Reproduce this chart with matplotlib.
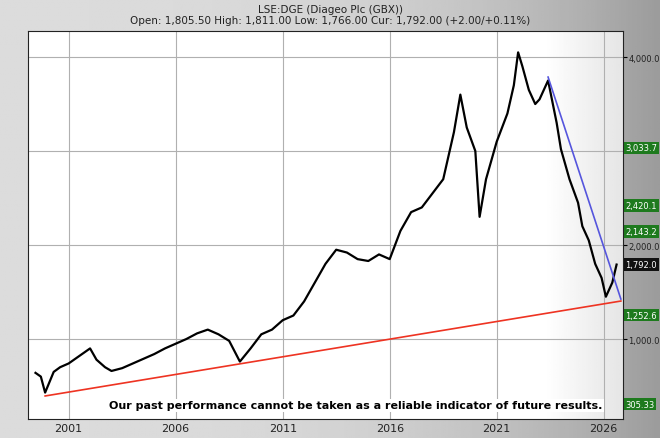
import matplotlib
matplotlib.use("Agg")
import matplotlib.pyplot as plt
import numpy as np

years = [1999.45, 1999.7, 1999.9, 2000.3, 2000.6, 2001.0, 2001.5, 2002.0, 2002.3, 2002.7, 2003.0, 2003.5,
         2004.0, 2004.5, 2005.0, 2005.5, 2006.0, 2006.5, 2007.0, 2007.5, 2008.0, 2008.5, 2009.0, 2009.5,
         2010.0, 2010.5, 2011.0, 2011.5, 2012.0, 2012.5, 2013.0, 2013.5, 2014.0, 2014.5, 2015.0, 2015.5,
         2016.0, 2016.5, 2017.0, 2017.5, 2018.0, 2018.5, 2019.0, 2019.3, 2019.6, 2020.0, 2020.2, 2020.5,
         2021.0, 2021.5, 2021.8, 2022.0, 2022.2, 2022.5, 2022.8, 2023.0, 2023.4, 2023.8, 2024.0, 2024.4,
         2024.8, 2025.0, 2025.3, 2025.6, 2025.9, 2026.1, 2026.4, 2026.6]
prices = [640, 600, 430, 650, 700, 740, 820, 900, 780, 700, 660, 690,
          740, 790, 840, 900, 950, 1000, 1060, 1100, 1050, 980, 760, 900,
          1050, 1100, 1200, 1250, 1400, 1600, 1800, 1950, 1920, 1850, 1830, 1900,
          1850, 2150, 2350, 2400, 2550, 2700, 3200, 3600, 3250, 3000, 2300, 2700,
          3100, 3400, 3700, 4050, 3900, 3650, 3500, 3550, 3750, 3300, 3020, 2700,
          2450, 2200, 2050, 1800, 1650, 1450, 1600, 1792]
red_line_x = [1999.9, 2026.8]
red_line_y = [394, 1404]
blue_line_x = [2023.4, 2026.8]
blue_line_y = [3787, 1425]
grid_years = [2001, 2006, 2011, 2016, 2021, 2026]
y_labels = [1000, 2000, 4000]
levels = [3033.7, 2420.1, 2143.2, 1792.0, 1252.6, 305.33]
level_text = ["3,033.7", "2,420.1", "2,143.2", "1,792.0", "1,252.6", "305.33"]
level_colors = ["#1e7a1e", "#1e7a1e", "#1e7a1e", "#111111", "#1e7a1e", "#1e7a1e"]

fig = plt.figure(figsize=(6.6, 4.39), dpi=100)
bg = fig.add_axes([0, 0, 1, 1])
gx = np.linspace(0, 1, 300)
grad = np.outer(np.ones(200), 0.86 - 0.25 * gx ** 3)
bg.imshow(grad, cmap="gray", vmin=0, vmax=1, aspect="auto", extent=[0, 1, 0, 1])
bg.axis("off")

ax = fig.add_axes([28/660, 19/439, 595/660, 388/439])
ax.set_facecolor("white")
rg = np.outer(np.ones(10), np.concatenate([np.ones(260), np.linspace(1, 0.9, 40)]))
ax.imshow(rg, cmap="gray", vmin=0, vmax=1, aspect="auto", extent=[1999.1, 2026.9, 149, 4277], zorder=0)
ax.set_xlim(1999.1, 2026.9)
ax.set_ylim(149, 4277)
for g in grid_years:
    ax.axvline(g, color="#b0b0b0", lw=0.8, zorder=1)
for v in [1000, 2000, 3000, 4000]:
    ax.axhline(v, color="#b0b0b0", lw=0.8, zorder=1)

ax.plot(years, prices, color="black", lw=1.6, zorder=3)
ax.plot(red_line_x, red_line_y, color="#ee3322", lw=1.2, zorder=4)
ax.plot(blue_line_x, blue_line_y, color="#5555dd", lw=1.2, zorder=4)

ax.set_xticks(grid_years)
ax.set_xticklabels([str(g) for g in grid_years], fontsize=8, color="#222222")
ax.tick_params(axis="x", length=0, pad=3)
ax.yaxis.tick_right()
ax.set_yticks(levels + y_labels)
ax.set_yticklabels([""] * len(levels) + ["1,000.0", "2,000.0", "4,000.0"], fontsize=6, color="#222222")
ax.tick_params(axis="y", length=3, pad=1)
for s in ax.spines.values():
    s.set_color("#222222")

for v, t, c in zip(levels, level_text, level_colors):
    ax.text(1.004, v, t, transform=ax.get_yaxis_transform(), fontsize=6, color="white",
            va="center", ha="left", bbox=dict(boxstyle="square,pad=0.2", fc=c, ec="none"), clip_on=False)

ax.text(0.55, 0.035, "Our past performance cannot be taken as a reliable indicator of future results.",
        transform=ax.transAxes, fontsize=8, fontweight="bold", ha="center", va="center",
        bbox=dict(boxstyle="square,pad=0.15", fc="white", ec="none"), zorder=6)

fig.text(0.5, 0.978, "LSE:DGE (Diageo Plc (GBX))", ha="center", va="center", fontsize=7.5, color="#222222")
fig.text(0.5, 0.953, "Open: 1,805.50 High: 1,811.00 Low: 1,766.00 Cur: 1,792.00 (+2.00/+0.11%)",
         ha="center", va="center", fontsize=7.5, color="#222222")

fig.savefig("out.png", dpi=100)
